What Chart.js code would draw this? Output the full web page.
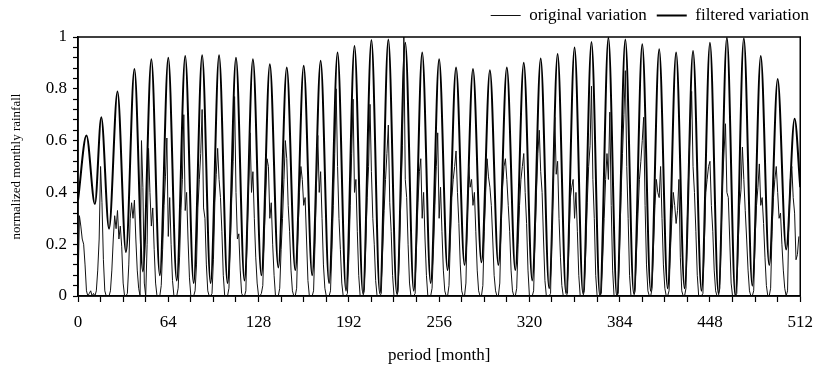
<!DOCTYPE html>
<html>
<head>
<meta charset="utf-8">
<script src="https://cdn.jsdelivr.net/npm/chart.js@4.4.1/dist/chart.umd.min.js"></script>
<style>
  html, body { margin: 0; padding: 0; background: #fff; }
  #wrap { width: 823px; height: 376px; position: relative; }
</style>
</head>
<body>
<div id="wrap"><canvas id="rainChart"></canvas></div>
<script>
// monthly values, one row per year (months 0..511)
const originalVariation = [
  0.03,0.31,0.27,0.22,0.20,0.12,0.02,0.00,0.01,0.02,0.00,0.01,
  0.00,0.02,0.10,0.22,0.50,0.36,0.14,0.02,0.00,0.00,0.00,0.02,
  0.10,0.22,0.31,0.26,0.33,0.22,0.27,0.19,0.05,0.00,0.00,0.01,
  0.12,0.30,0.36,0.30,0.37,0.22,0.10,0.03,0.00,0.60,0.42,0.05,
  0.00,0.20,0.57,0.40,0.27,0.34,0.18,0.05,0.00,0.00,0.00,0.04,
  0.18,0.35,0.46,0.61,0.23,0.38,0.20,0.06,0.00,0.00,0.00,0.03,
  0.15,0.33,0.45,0.70,0.33,0.40,0.22,0.07,0.00,0.00,0.00,0.02,
  0.12,0.34,0.45,0.55,0.72,0.34,0.30,0.12,0.02,0.00,0.00,0.01,
  0.14,0.36,0.47,0.57,0.45,0.38,0.25,0.08,0.00,0.00,0.00,0.03,
  0.20,0.38,0.52,0.77,0.40,0.22,0.24,0.10,0.01,0.00,0.00,0.02,
  0.25,0.45,0.63,0.40,0.48,0.30,0.15,0.05,0.00,0.00,0.01,0.04,
  0.22,0.38,0.53,0.50,0.30,0.36,0.20,0.08,0.00,0.00,0.00,0.03,
  0.18,0.30,0.45,0.60,0.53,0.35,0.25,0.10,0.02,0.00,0.00,0.03,
  0.25,0.40,0.50,0.45,0.35,0.38,0.22,0.06,0.00,0.00,0.00,0.02,
  0.20,0.42,0.62,0.40,0.48,0.30,0.12,0.03,0.00,0.00,0.00,0.02,
  0.18,0.35,0.55,0.80,0.50,0.30,0.18,0.05,0.00,0.00,0.00,0.01,
  0.15,0.35,0.55,0.76,0.40,0.45,0.25,0.08,0.00,0.00,0.00,0.02,
  0.20,0.38,0.50,0.74,0.48,0.30,0.20,0.06,0.00,0.00,0.00,0.01,
  0.18,0.33,0.45,0.55,0.66,0.36,0.25,0.08,0.00,0.00,0.00,0.02,
  0.22,0.40,0.58,1.00,0.45,0.38,0.20,0.05,0.00,0.00,0.00,0.01,
  0.20,0.36,0.48,0.53,0.30,0.40,0.22,0.08,0.00,0.00,0.00,0.03,
  0.18,0.35,0.50,0.63,0.30,0.42,0.25,0.10,0.02,0.00,0.00,0.04,
  0.22,0.38,0.45,0.50,0.56,0.40,0.28,0.12,0.02,0.00,0.00,0.05,
  0.30,0.50,0.42,0.45,0.35,0.40,0.25,0.10,0.02,0.00,0.00,0.04,
  0.25,0.40,0.53,0.46,0.42,0.35,0.22,0.08,0.02,0.00,0.00,0.05,
  0.28,0.42,0.50,0.53,0.45,0.35,0.25,0.10,0.02,0.00,0.00,0.03,
  0.20,0.35,0.45,0.50,0.55,0.40,0.28,0.10,0.00,0.00,0.00,0.02,
  0.22,0.40,0.55,0.64,0.48,0.40,0.22,0.06,0.00,0.00,0.00,0.01,
  0.25,0.45,0.69,0.47,0.52,0.30,0.15,0.04,0.00,0.00,0.00,0.01,
  0.20,0.38,0.42,0.45,0.30,0.40,0.25,0.08,0.00,0.00,0.00,0.02,
  0.18,0.36,0.50,0.58,0.81,0.45,0.30,0.08,0.00,0.00,0.00,0.01,
  0.15,0.30,0.45,0.55,0.45,0.71,0.35,0.10,0.00,0.00,0.00,0.01,
  0.20,0.40,0.55,0.70,0.87,0.50,0.30,0.08,0.00,0.00,0.00,0.02,
  0.18,0.32,0.45,0.52,0.60,0.69,0.35,0.12,0.02,0.00,0.00,0.03,
  0.20,0.35,0.45,0.40,0.38,0.50,0.30,0.12,0.03,0.00,0.00,0.02,
  0.18,0.30,0.40,0.35,0.28,0.33,0.45,0.15,0.02,0.00,0.00,0.03,
  0.30,0.50,0.65,0.79,0.50,0.40,0.25,0.08,0.00,0.00,0.00,0.01,
  0.20,0.40,0.45,0.50,0.52,0.35,0.25,0.10,0.02,0.00,0.00,0.03,
  0.25,0.45,0.56,0.665,0.40,0.38,0.22,0.05,0.00,0.00,0.00,0.01,
  0.20,0.35,0.41,0.575,0.45,0.33,0.22,0.10,0.02,0.00,0.00,0.02,
  0.22,0.35,0.42,0.51,0.35,0.38,0.28,0.15,0.04,0.00,0.00,0.03,
  0.25,0.38,0.45,0.50,0.40,0.30,0.32,0.20,0.10,0.03,0.00,0.02,
  0.30,0.45,0.50,0.38,0.32,0.14,0.16,0.23
];

// filtered curve: peaks and troughs (month, value)
const filteredMonths = [
  0, 6, 12, 16.5, 22, 28, 34, 40, 46, 52, 58, 64, 70, 76, 82, 88, 94, 100, 106, 112,
  118, 124, 130, 136, 142, 148, 154, 160, 166, 172, 178, 184, 190, 196, 202, 208, 214, 220,
  226, 232, 238, 244, 250, 256, 262, 268, 274, 280, 286, 292, 298, 304, 310, 316, 322, 328,
  334, 340, 346, 352, 358, 364, 370, 376, 382, 388, 394, 400, 406, 412, 418, 424, 430, 436,
  442, 448, 454, 460, 466, 472, 478, 484, 490, 496, 502, 508, 512
];
const filteredValues = [
  0.37, 0.62, 0.355, 0.69, 0.26, 0.79, 0.17, 0.876, 0.095, 0.914, 0.08, 0.92, 0.06, 0.927, 0.05, 0.93, 0.05, 0.93, 0.05, 0.92,
  0.06, 0.914, 0.08, 0.895, 0.11, 0.882, 0.10, 0.889, 0.08, 0.908, 0.05, 0.94, 0.02, 0.965, 0.01, 0.988, 0.01, 0.99,
  0.01, 0.978, 0.02, 0.94, 0.05, 0.914, 0.10, 0.882, 0.12, 0.876, 0.13, 0.872, 0.12, 0.882, 0.10, 0.901, 0.06, 0.917,
  0.03, 0.934, 0.01, 0.959, 0.01, 0.981, 0.00, 0.997, 0.00, 0.99, 0.01, 0.972, 0.02, 0.953, 0.03, 0.94, 0.03, 0.946,
  0.02, 0.978, 0.01, 0.997, 0.00, 0.995, 0.04, 0.927, 0.12, 0.838, 0.18, 0.684, 0.42
];

const xMajorTicks = [0, 64, 128, 192, 256, 320, 384, 448, 512];
const yMajorTicks = [0, 0.2, 0.4, 0.6, 0.8, 1];

const serif = 'Liberation Serif';

// box round the plot area
const frameBox = {
    id: 'frameBox',
    afterDraw(chart) {
        const { ctx, chartArea: a } = chart;
        ctx.save();
        ctx.strokeStyle = '#000';
        ctx.lineWidth = 1.5;
        ctx.strokeRect(a.left, a.top, a.right - a.left, a.bottom - a.top);
        ctx.restore();
    }
};

// nudge the legend to the right edge like the original figure
const legendShift = {
    id: 'legendShift',
    afterLayout(chart) {
        const lg = chart.legend;
        if (!lg) return;
        lg.left += 12;
        lg.right += 12;
        lg.top -= 3;
        lg.bottom -= 3;
    }
};

const isMajor = (list, v) => list.some(t => Math.abs(t - v) < 1e-6);

new Chart(document.getElementById('rainChart'), {
    type: 'line',
    data: {
        datasets: [{
            label: 'original variation',
            data: originalVariation.map((v, i) => ({ x: i, y: v })),
            borderColor: '#111',
            backgroundColor: '#111',
            borderWidth: 1,
            pointRadius: 0,
            tension: 0
        }, {
            label: 'filtered variation',
            data: filteredMonths.map((m, i) => ({ x: m, y: filteredValues[i] })),
            borderColor: '#000',
            backgroundColor: '#000',
            borderWidth: 2,
            pointRadius: 0,
            cubicInterpolationMode: 'monotone'
        }]
    },
    options: {
        responsive: true,
        maintainAspectRatio: false,
        animation: false,
        layout: { padding: { left: 0, right: 16, top: 0, bottom: 0 } },
        plugins: {
            tooltip: { enabled: false },
            legend: {
                position: 'top',
                align: 'end',
                labels: {
                    usePointStyle: true,
                    pointStyle: 'line',
                    pointStyleWidth: 30,
                    color: '#000',
                    padding: 10,
                    font: { family: serif, size: 17 }
                }
            }
        },
        scales: {
            x: {
                type: 'linear',
                min: 0,
                max: 512,
                afterFit: s => { s.height = 80; },
                border: { color: '#000', width: 1.5 },
                grid: { drawOnChartArea: false, color: '#000', tickLength: 6, tickWidth: 1.2 },
                ticks: {
                    stepSize: 16,
                    autoSkip: false,
                    maxTicksLimit: 100,
                    maxRotation: 0,
                    color: '#000',
                    padding: 10,
                    font: { family: serif, size: 17 },
                    callback: v => isMajor(xMajorTicks, v) ? String(v) : ''
                },
                title: {
                    display: true,
                    text: 'period [month]',
                    color: '#000',
                    font: { family: serif, size: 17 },
                    padding: { top: 0, bottom: 10 }
                }
            },
            y: {
                min: 0,
                max: 1,
                afterFit: s => { s.width = 78; },
                border: { color: '#000', width: 1.5 },
                grid: { drawOnChartArea: false, color: '#000', tickLength: 5, tickWidth: 1.2 },
                ticks: {
                    stepSize: 0.04,
                    autoSkip: false,
                    maxTicksLimit: 100,
                    color: '#000',
                    padding: 6,
                    font: { family: serif, size: 17 },
                    callback: v => isMajor(yMajorTicks, v) ? String(Math.round(v * 10) / 10) : ''
                },
                title: {
                    display: true,
                    text: 'normalized monthly rainfall',
                    color: '#000',
                    font: { family: serif, size: 13 },
                    padding: { top: 9, bottom: 0 }
                }
            }
        }
    },
    plugins: [frameBox, legendShift]
});
</script>
</body>
</html>
